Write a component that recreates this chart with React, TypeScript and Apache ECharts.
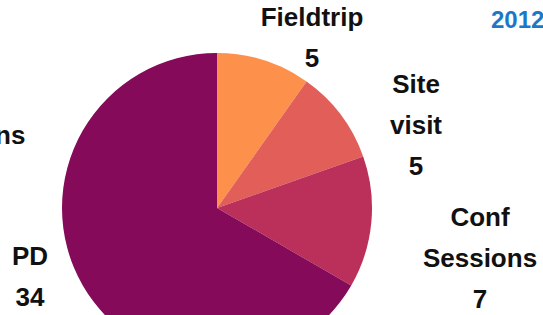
import React, { useEffect, useRef } from "react";
import * as echarts from "echarts";

const categories = ["Fieldtrip", "Site visit", "Conf Sessions", "PD"];
const values = [5, 5, 7, 34];
const colors = ["#FD914C", "#E25E59", "#BB2F5B", "#850A59"];
const titleText = "2012";
const partialLabel = "ns";

const labelPos: [number, number][] = [
  [312, 37],
  [416, 125],
  [480, 258],
  [30, 276],
];

export default function App() {
  const ref = useRef<HTMLDivElement>(null);
  useEffect(() => {
    document.body.style.margin = "0";
    const chart = echarts.init(ref.current!, null, { renderer: "svg" });
    chart.setOption({
      animation: false,
      backgroundColor: "#ffffff",
      graphic: [
        {
          type: "text",
          x: 491,
          y: 19,
          style: {
            text: titleText,
            fill: "#1C78C6",
            font: "bold 24px 'Liberation Sans', Arial, sans-serif",
            verticalAlign: "middle",
          },
        },
        {
          type: "text",
          x: -5,
          y: 135,
          style: {
            text: partialLabel,
            fill: "#111111",
            font: "bold 26px 'Liberation Sans', Arial, sans-serif",
            verticalAlign: "middle",
          },
        },
      ],
      series: [
        {
          type: "pie",
          center: [217, 208],
          radius: 155,
          startAngle: 90,
          clockwise: true,
          silent: true,
          data: categories.map((c, i) => ({
            name: c,
            value: values[i],
            itemStyle: { color: colors[i] },
          })),
          label: {
            show: true,
            formatter: (p: any) => p.name.replace(" ", "\n") + "\n" + p.value,
            fontFamily: "'Liberation Sans', Arial, sans-serif",
            fontWeight: "bold",
            fontSize: 26,
            lineHeight: 41,
            color: "#111111",
            align: "center",
            overflow: "none",
          },
          labelLine: { show: false },
          labelLayout: (params: any) => ({
            x: labelPos[params.dataIndex][0],
            y: labelPos[params.dataIndex][1],
            align: "center",
            verticalAlign: "middle",
          }),
        },
      ],
    });
    return () => chart.dispose();
  }, []);
  return <div ref={ref} style={{ width: 543, height: 315 }} />;
}
